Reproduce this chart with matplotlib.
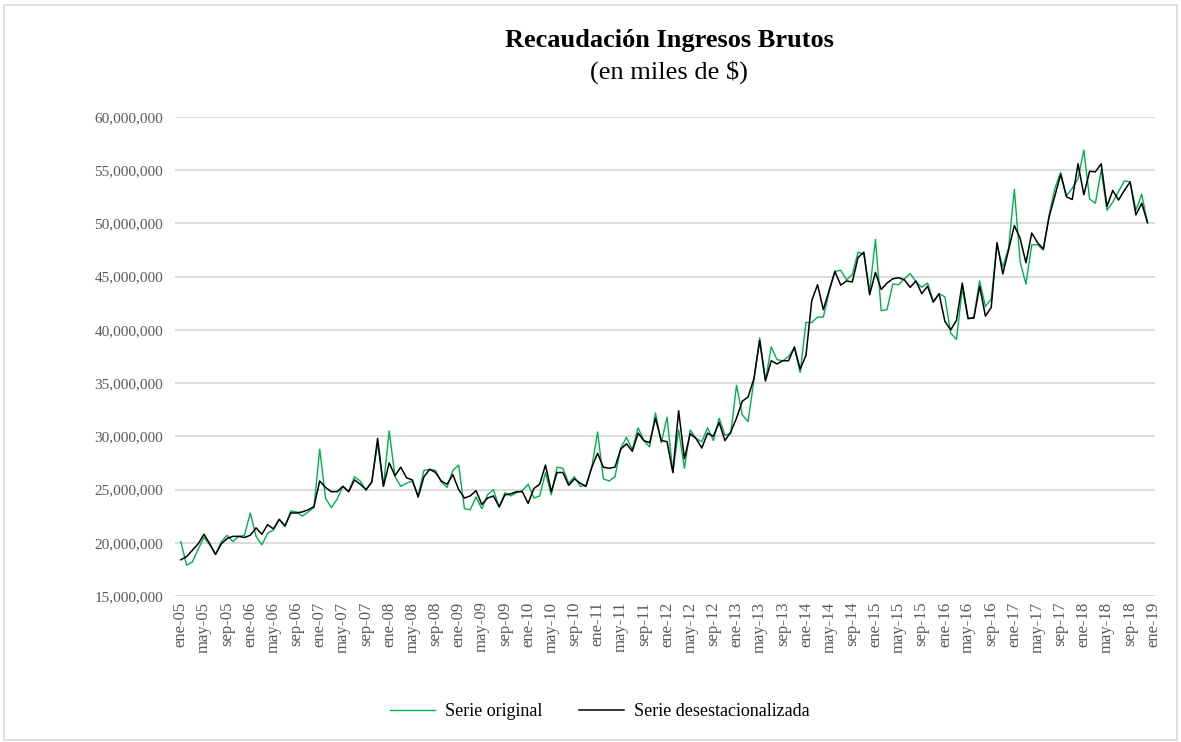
import numpy as np
import matplotlib
matplotlib.use('Agg')
import matplotlib.pyplot as plt
from matplotlib.ticker import FuncFormatter
from matplotlib.patches import Rectangle

plt.rcParams['font.family'] = ['Liberation Serif', 'DejaVu Serif']

# monthly values, ene-05 .. dic-18, in millions (of miles de $)
serie_original = [
    20.1, 17.9, 18.2, 19.4, 20.5, 19.8, 18.9, 20.1, 20.7, 20.1, 20.6, 20.7,
    22.8, 20.6, 19.8, 20.9, 21.2, 22.2, 21.5, 23.0, 22.9, 22.5, 22.9, 23.3,
    28.8, 24.2, 23.3, 24.1, 25.3, 24.8, 26.2, 25.8, 24.9, 25.8, 29.3, 25.3,
    30.5, 26.2, 25.3, 25.6, 25.8, 24.4, 26.8, 26.9, 26.8, 25.7, 25.2, 26.8,
    27.3, 23.2, 23.1, 24.3, 23.2, 24.5, 25.0, 23.3, 24.7, 24.4, 24.7, 24.9,
    25.5, 24.2, 24.4, 26.6, 24.5, 27.1, 27.0, 25.6, 26.2, 25.3, 25.4, 27.1,
    30.4, 26.0, 25.8, 26.2, 28.9, 29.9, 28.75, 30.8, 29.6, 29.0, 32.2, 29.4,
    31.8, 26.6, 30.6, 27.0, 30.6, 29.8, 29.5, 30.8, 29.6, 31.7, 30.1, 30.25,
    34.8, 32.0, 31.4, 35.25, 39.25, 35.25, 38.4, 37.2, 37.1, 37.5, 38.3, 36.0,
    40.7, 40.7, 41.2, 41.2, 43.6, 45.5, 45.6, 44.7, 45.2, 47.3, 47.1, 43.6,
    48.5, 41.8, 41.9, 44.3, 44.25, 44.8, 45.3, 44.5, 44.0, 44.4, 42.7, 43.4,
    43.1, 39.7, 39.1, 43.9, 41.0, 41.2, 44.6, 42.2, 42.9, 48.0, 45.9, 47.7,
    53.2, 46.4, 44.3, 48.0, 48.0, 47.5, 50.8, 53.3, 54.8, 52.6, 53.3, 54.2,
    56.9, 52.3, 51.9, 55.0, 51.25, 52.0, 53.0, 54.0, 53.9, 51.25, 52.75, 50.0,
]

serie_desest = [
    18.4, 18.7, 19.3, 19.9, 20.8, 19.9, 18.9, 19.9, 20.4, 20.6, 20.6, 20.5,
    20.7, 21.4, 20.8, 21.7, 21.3, 22.2, 21.6, 22.8, 22.8, 22.9, 23.1, 23.4,
    25.8, 25.2, 24.8, 24.8, 25.3, 24.8, 25.9, 25.5, 25.0, 25.7, 29.8, 25.3,
    27.5, 26.3, 27.1, 26.1, 25.9, 24.3, 26.2, 26.9, 26.6, 25.8, 25.5, 26.4,
    25.0, 24.2, 24.4, 24.9, 23.6, 24.2, 24.4, 23.4, 24.5, 24.6, 24.8, 24.8,
    23.7, 25.1, 25.5, 27.3, 24.8, 26.6, 26.6, 25.4, 26.0, 25.6, 25.3, 27.1,
    28.4, 27.1, 27.0, 27.1, 28.8, 29.3, 28.6, 30.3, 29.6, 29.4, 31.7, 29.6,
    29.5, 26.6, 32.4, 27.9, 30.25, 29.8, 28.9, 30.3, 30.0, 31.3, 29.6, 30.4,
    31.7, 33.3, 33.7, 35.4, 39.0, 35.2, 37.1, 36.8, 37.1, 37.1, 38.4, 36.3,
    37.6, 42.75, 44.25, 41.9, 43.7, 45.5, 44.2, 44.6, 44.5, 46.8, 47.3, 43.3,
    45.4, 43.8, 44.4, 44.8, 44.9, 44.7, 44.0, 44.6, 43.4, 44.1, 42.6, 43.4,
    40.8, 40.0, 40.9, 44.4, 41.1, 41.1, 44.1, 41.3, 42.1, 48.2, 45.25, 47.5,
    49.8, 48.6, 46.3, 49.1, 48.2, 47.6, 50.6, 52.6, 54.6, 52.5, 52.25, 55.6,
    52.7, 54.9, 54.85, 55.6, 51.6, 53.1, 52.2, 53.1, 53.9, 50.8, 51.9, 50.1,
]

mes_abrev = ['ene', 'may', 'sep']
anios = list(range(5, 20))
tick_labels = [f'{m}-{a:02d}' for a in anios for m in mes_abrev][:43]
tick_pos = list(range(0, 169, 4))

verde = '#00B050'
gris_txt = '#595959'
gris_grid = '#D9D9D9'

fig = plt.figure(figsize=(11.81, 7.42), dpi=100)
ax = fig.add_axes([0.1482, 0.1968, 0.8298, 0.6455])

x = np.arange(len(serie_original))
orig = np.array(serie_original) * 1e6
des = np.array(serie_desest) * 1e6

ax.plot(x, orig, color=verde, lw=1.0, label='Serie original', zorder=3)
ax.plot(x, des, color='black', lw=1.1, label='Serie desestacionalizada', zorder=4)

ax.set_ylim(15e6, 60e6)
ax.set_yticks(np.arange(15e6, 60.1e6, 5e6))
ax.yaxis.set_major_formatter(FuncFormatter(lambda v, p: f'{v:,.0f}'))
ax.set_xlim(-1, 168.3)
ax.set_xticks(tick_pos)
ax.set_xticklabels(tick_labels, rotation=90)

ax.grid(axis='y', color=gris_grid, lw=1.3)
ax.set_axisbelow(True)
for s in ax.spines.values():
    s.set_visible(False)
ax.tick_params(axis='both', length=0, labelsize=11, colors=gris_txt)
ax.tick_params(axis='y', pad=8.5)
ax.tick_params(axis='x', pad=4, labelsize=12)

cx = 0.5665
fig.text(cx, 0.946, 'Recaudación Ingresos Brutos', ha='center', va='center',
         fontsize=19, fontweight='bold')
fig.text(cx, 0.903, '(en miles de $)', ha='center', va='center', fontsize=19)

leg = fig.legend(loc='center', bbox_to_anchor=(0.508, 0.041), ncol=2,
                 frameon=False, fontsize=13, handlelength=2.5,
                 columnspacing=2.0, handletextpad=0.55)

fig.patches.append(Rectangle((0.003, 0.003), 0.994, 0.99, transform=fig.transFigure,
                             fill=False, edgecolor=gris_grid, lw=1.2))

fig.savefig('out.png', dpi=100)
